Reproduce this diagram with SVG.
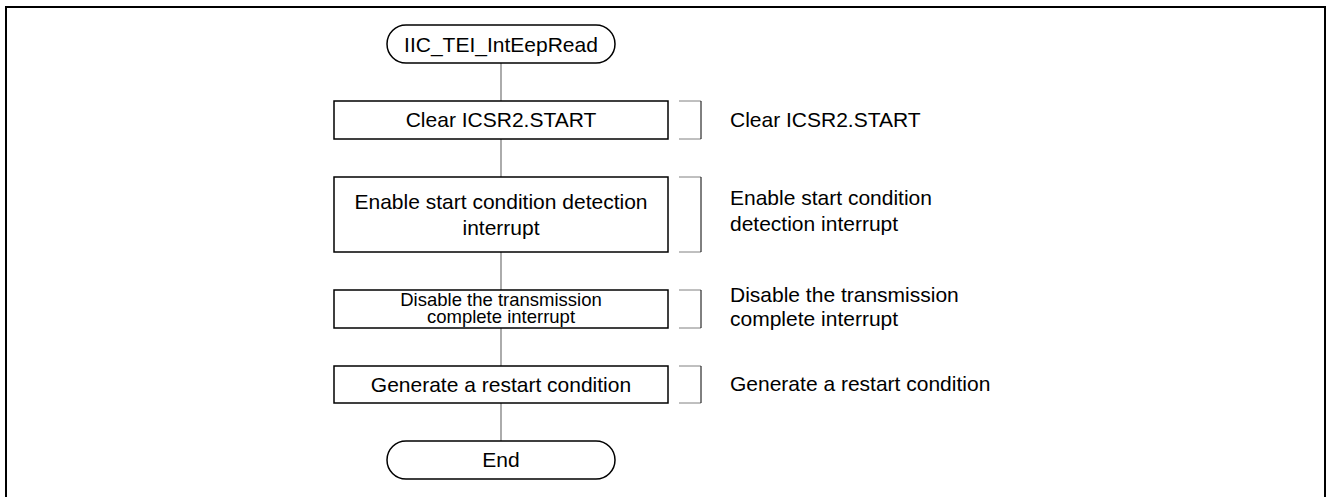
<svg xmlns="http://www.w3.org/2000/svg" width="1328" height="497" viewBox="0 0 1328 497">
<style>
.box{fill:#fff;stroke:#000;stroke-width:1.5}
.t{font-family:"Liberation Sans",Arial,sans-serif;font-size:21px;fill:#000}
.c{text-anchor:middle}
.s{font-size:18.5px}
.conn{stroke:#7f7f7f;stroke-width:1.3;fill:none}
.brh{stroke:#808080;stroke-width:1;fill:none}
.brv{stroke:#000;stroke-width:1;fill:none}
</style>
<rect x="6" y="7" width="1319" height="500" fill="none" stroke="#000" stroke-width="2"/>
<g id="connectors">
<line class="conn" x1="501" y1="63" x2="501" y2="101"/>
<line class="conn" x1="501" y1="139" x2="501" y2="177"/>
<line class="conn" x1="501" y1="252" x2="501" y2="290"/>
<line class="conn" x1="501" y1="328" x2="501" y2="366"/>
<line class="conn" x1="501" y1="403" x2="501" y2="441"/>
</g>
<g id="start">
<rect class="box" x="387" y="25" width="228" height="38" rx="19"/>
<text class="t c" x="501" y="52">IIC_TEI_IntEepRead</text>
</g>
<g id="step1">
<rect class="box" x="334" y="101" width="334" height="38"/>
<text class="t c" x="501" y="127">Clear ICSR2.START</text>
</g>
<g id="step2">
<rect class="box" x="334" y="177" width="334" height="75"/>
<text class="t c" x="501" y="209">Enable start condition detection</text>
<text class="t c" x="501" y="235">interrupt</text>
</g>
<g id="step3">
<rect class="box" x="334" y="290" width="334" height="38"/>
<text class="t c s" x="501" y="306">Disable the transmission</text>
<text class="t c s" x="501" y="323">complete interrupt</text>
</g>
<g id="step4">
<rect class="box" x="334" y="366" width="334" height="37"/>
<text class="t c" x="501" y="392">Generate a restart condition</text>
</g>
<g id="end">
<rect class="box" x="387" y="441" width="228" height="38" rx="19"/>
<text class="t c" x="501" y="467">End</text>
</g>
<g id="note1">
<path class="brh" d="M679 101H701M679 139H701"/><path class="brv" d="M701 101V139"/>
<text class="t" x="730" y="127">Clear ICSR2.START</text>
</g>
<g id="note2">
<path class="brh" d="M679 177H701M679 252H701"/><path class="brv" d="M701 177V252"/>
<text class="t" x="730" y="205">Enable start condition</text>
<text class="t" x="730" y="231">detection interrupt</text>
</g>
<g id="note3">
<path class="brh" d="M679 290H701M679 328H701"/><path class="brv" d="M701 290V328"/>
<text class="t" x="730" y="302">Disable the transmission</text>
<text class="t" x="730" y="326">complete interrupt</text>
</g>
<g id="note4">
<path class="brh" d="M679 366H701M679 403H701"/><path class="brv" d="M701 366V403"/>
<text class="t" x="730" y="391">Generate a restart condition</text>
</g>
</svg>
